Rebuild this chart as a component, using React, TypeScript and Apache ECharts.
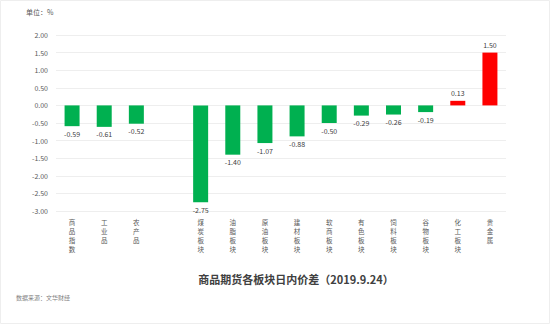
import React, { useEffect, useRef } from "react";
import * as echarts from "echarts";

const categories = ["商品指数", "工业品", "农产品", "", "煤炭板块", "油脂板块", "原油板块", "建材板块", "软商板块", "有色板块", "饲料板块", "谷物板块", "化工板块", "贵金属"];
const values: (number | null)[] = [-0.59, -0.61, -0.52, null, -2.75, -1.4, -1.07, -0.88, -0.5, -0.29, -0.26, -0.19, 0.13, 1.5];
const yTicks = { min: -3, max: 2, interval: 0.5 };

const FONT = "'Noto Sans CJK SC', 'Noto Sans', sans-serif";

export default function App() {
  const ref = useRef<HTMLDivElement>(null);
  useEffect(() => {
    document.body.style.margin = "0";
    const chart = echarts.init(ref.current!, null, { renderer: "svg" });
    chart.setOption({
      animation: false,
      backgroundColor: "#ffffff",
      textStyle: { fontFamily: FONT },
      grid: { left: 56, right: 44, top: 35, bottom: 113 },
      title: {
        text: "商品期货各板块日内价差（2019.9.24）",
        left: 291,
        textAlign: "center",
        top: 268,
        textStyle: { fontSize: 11, fontWeight: "bold", color: "#404040", fontFamily: FONT },
      },
      graphic: [
        { type: "rect", shape: { x: 0.5, y: 0.5, width: 549, height: 323 }, style: { fill: "none", stroke: "#eeeeee", lineWidth: 1 } },
        { type: "text", left: 26, top: 8, style: { text: "单位：%", fontSize: 7, fill: "#595959", fontFamily: FONT } },
        { type: "text", left: 16, top: 294, style: { text: "数据来源：文华财经", fontSize: 6, fill: "#7f7f7f", fontFamily: FONT } },
      ],
      xAxis: {
        type: "category",
        data: categories,
        axisLine: { show: false, onZero: false },
        axisTick: { show: false },
        axisLabel: {
          interval: 0,
          margin: 6,
          fontSize: 6.5,
          lineHeight: 9,
          color: "#595959",
          fontFamily: FONT,
          formatter: (v: string) => v.split("").join("\n"),
        },
      },
      yAxis: {
        type: "value",
        min: yTicks.min,
        max: yTicks.max,
        interval: yTicks.interval,
        axisLine: { show: false },
        axisTick: { show: false },
        splitLine: { lineStyle: { color: "#eeeeee", width: 1 } },
        axisLabel: {
          margin: 8,
          fontSize: 7,
          color: "#595959",
          fontFamily: FONT,
          formatter: (v: number) => v.toFixed(2),
        },
      },
      series: [
        {
          type: "bar",
          barWidth: 15,
          data: values.map((v) =>
            v === null
              ? null
              : {
                  value: v,
                  itemStyle: { color: v >= 0 ? "#ff0000" : "#00b050" },
                  label: { position: v >= 0 ? "top" : "bottom" },
                }
          ),
          label: {
            show: true,
            fontSize: 7,
            color: "#404040",
            distance: 4,
            fontFamily: FONT,
            formatter: (p: any) => Number(p.value).toFixed(2),
          },
        },
      ],
    });
    return () => chart.dispose();
  }, []);
  return <div ref={ref} style={{ width: 550, height: 324 }} />;
}
